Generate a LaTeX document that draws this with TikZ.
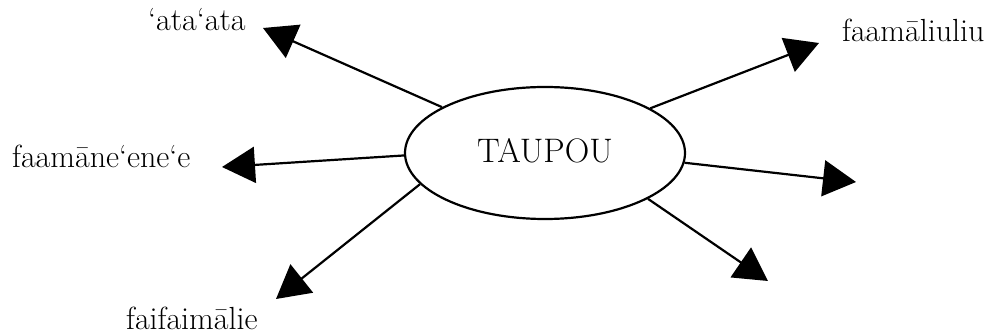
\documentclass[tikz,border=0pt]{standalone}
\usepackage{fontspec}
\usetikzlibrary{arrows.meta,shapes.geometric}
\begin{document}
\begin{tikzpicture}[x=1pt,y=-1pt,
  lbl/.style={anchor=base west,inner sep=0pt,font=\fontsize{32}{38}\selectfont},
  conn/.style={line width=2.2pt,-{Triangle[length=33pt,width=36pt]}}]
\useasboundingbox (0,0) rectangle (1003,336);
\node[ellipse,draw,line width=2.2pt,minimum width=280pt,minimum height=132pt,inner sep=0pt] (e) at (545,153) {};
\node[anchor=base,inner sep=0pt,font=\fontsize{34}{40}\selectfont] (t) at (545,163) {TAUPOU};
\coordinate (ul) at (263,28);
\coordinate (ur) at (819,43);
\coordinate (l) at (222,167);
\coordinate (r) at (856,182);
\coordinate (lr) at (768,281);
\coordinate (ll) at (276,299);
\draw[conn] (e.156) -- (ul);
\draw[conn] (e.23) -- (ur);
\draw[conn] (e.181) -- (l);
\draw[conn] (e.-4.5) -- (r);
\draw[conn] (e.-24.5) -- (lr);
\draw[conn] (e.194.6) -- (ll);
\node[lbl] (a) at (148,31) {‘ata‘ata};
\node[lbl] (b) at (842,42) {faamāliuliu};
\node[lbl] (c) at (12,168) {faamāne‘ene‘e};
\node[lbl] (d) at (126,329) {faifaimālie};
\end{tikzpicture}
\end{document}
